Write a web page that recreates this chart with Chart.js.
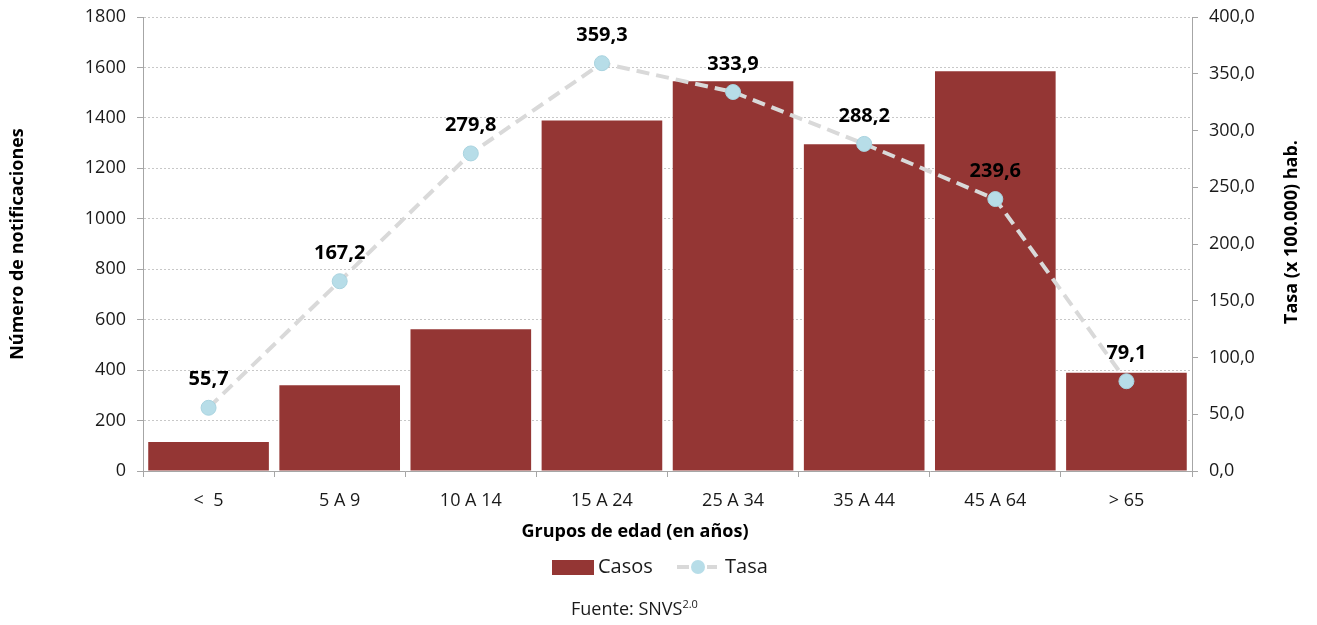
<!DOCTYPE html>
<html>
<head>
<meta charset="utf-8">
<script src="https://cdn.jsdelivr.net/npm/chart.js@4.4.0/dist/chart.umd.min.js"></script>
<style>
  body { margin: 0; background: #fff; }
  #wrap { position: relative; width: 1317px; height: 625px; }
  #fuente { position: absolute; left: 571px; top: 597px; font: 18px "Open Sans", sans-serif; line-height: 22px; color: #1a1a1a; white-space: nowrap; }
  #fuente sup { font-size: 11px; position: relative; top: -7px; vertical-align: baseline; }
</style>
</head>
<body>
<div id="wrap">
  <canvas id="chart" width="1317" height="625"></canvas>
  <div id="fuente">Fuente: SNVS<sup>2.0</sup></div>
</div>
<script>
const categorias = ["<  5", "5 A 9", "10 A 14", "15 A 24", "25 A 34", "35 A 44", "45 A 64", "> 65"];
const casos = [115, 340, 562, 1390, 1545, 1295, 1585, 390];
const tasa = [55.7, 167.2, 279.8, 359.3, 333.9, 288.2, 239.6, 79.1];

const FONT = "'Open Sans', sans-serif";
const TEXT = "#1a1a1a";
const AXIS = "#a6a6a6";

const fmt = (v, d) => v.toFixed(d).replace(".", ",");

// point labels, right axis title, x title and legend
const extras = {
    id: "extras",
    afterDatasetsDraw(chart) {
        const ctx = chart.ctx;
        const meta = chart.getDatasetMeta(1);
        ctx.save();
        ctx.font = "bold 20px " + FONT;
        ctx.fillStyle = "#000";
        ctx.textAlign = "center";
        ctx.textBaseline = "middle";
        meta.data.forEach((pt, i) => {
            ctx.fillText(fmt(tasa[i], 1), pt.x, pt.y - 28);
        });
        ctx.restore();
    },
    afterDraw(chart) {
        const ctx = chart.ctx;
        const y1 = chart.scales.y1;
        const bar = chart.data.datasets[0];
        const line = chart.data.datasets[1];
        ctx.save();
        ctx.fillStyle = "#000";
        ctx.textAlign = "center";
        ctx.textBaseline = "middle";
        ctx.font = "bold 18px " + FONT;

        ctx.save();
        ctx.translate(y1.right - 25, 232);
        ctx.rotate(-Math.PI / 2);
        ctx.fillText("Tasa (x 100.000) hab.", 0, 0);
        ctx.restore();

        ctx.fillText("Grupos de edad (en años)", 635, 532);

        // legend
        const ly = 567;
        ctx.fillStyle = bar.backgroundColor;
        ctx.fillRect(552, 560, 42, 15);
        ctx.font = "20px " + FONT;
        ctx.fillStyle = TEXT;
        ctx.textAlign = "left";
        ctx.fillText(bar.label, 598, ly);
        ctx.fillText(line.label, 725, ly);
        ctx.strokeStyle = line.borderColor;
        ctx.lineWidth = 4;
        ctx.beginPath();
        ctx.moveTo(677, ly); ctx.lineTo(689, ly);
        ctx.moveTo(707, ly); ctx.lineTo(717, ly);
        ctx.stroke();
        ctx.beginPath();
        ctx.arc(698, ly, 7, 0, Math.PI * 2);
        ctx.fillStyle = line.pointBackgroundColor;
        ctx.fill();
        ctx.restore();
    }
};

new Chart(document.getElementById("chart"), {
    type: "bar",
    data: {
        labels: categorias,
        datasets: [
            {
                label: "Casos",
                data: casos,
                yAxisID: "y",
                backgroundColor: "#943634",
                borderWidth: 0,
                barPercentage: 0.92,
                categoryPercentage: 1,
                order: 1,
            },
            {
                type: "line",
                label: "Tasa",
                data: tasa,
                yAxisID: "y1",
                borderColor: "#d9d9d9",
                borderWidth: 4,
                borderDash: [13, 7],
                pointRadius: 7.5,
                pointBackgroundColor: "#b7dde8",
                pointBorderColor: "#a9d3df",
                pointBorderWidth: 1,
                tension: 0,
                order: 0,
            },
        ],
    },
    options: {
        responsive: false,
        animation: false,
        layout: { padding: { top: 17, bottom: 74, left: 0, right: 0 } },
        plugins: {
            legend: { display: false },
            tooltip: { enabled: false },
        },
        scales: {
            x: {
                grid: { offset: true, drawOnChartArea: false, drawTicks: true, tickLength: 6, tickColor: AXIS, tickWidth: 1 },
                border: { color: AXIS, width: 1 },
                ticks: { color: TEXT, font: { family: FONT, size: 18 }, padding: 13, maxRotation: 0 },
                afterFit(s) { s.height = 80; },
            },
            y: {
                position: "left",
                min: 0,
                max: 1800,
                ticks: { stepSize: 200, color: TEXT, font: { family: FONT, size: 18 }, padding: 11, callback: (v) => String(v) },
                grid: { color: "#c8c8c8", tickLength: 6, tickColor: AXIS, tickBorderDash: [] },
                border: { color: AXIS, width: 1, dash: [2, 2] },
                title: { display: true, text: "Número de notificaciones", color: "#000", font: { family: FONT, size: 18, weight: "bold" }, padding: { top: 7, bottom: 0 } },
                afterFit(s) { s.width = 143; s.paddingTop = 0; s.paddingBottom = 0; },
            },
            y1: {
                position: "right",
                min: 0,
                max: 400,
                ticks: { stepSize: 50, color: TEXT, font: { family: FONT, size: 18 }, padding: 11, callback: (v) => fmt(v, 1) },
                grid: { drawOnChartArea: false, tickLength: 6, tickColor: AXIS },
                border: { color: AXIS, width: 1 },
                afterFit(s) { s.width = 125; s.paddingTop = 0; s.paddingBottom = 0; },
            },
        },
    },
    plugins: [extras],
});
</script>
</body>
</html>
